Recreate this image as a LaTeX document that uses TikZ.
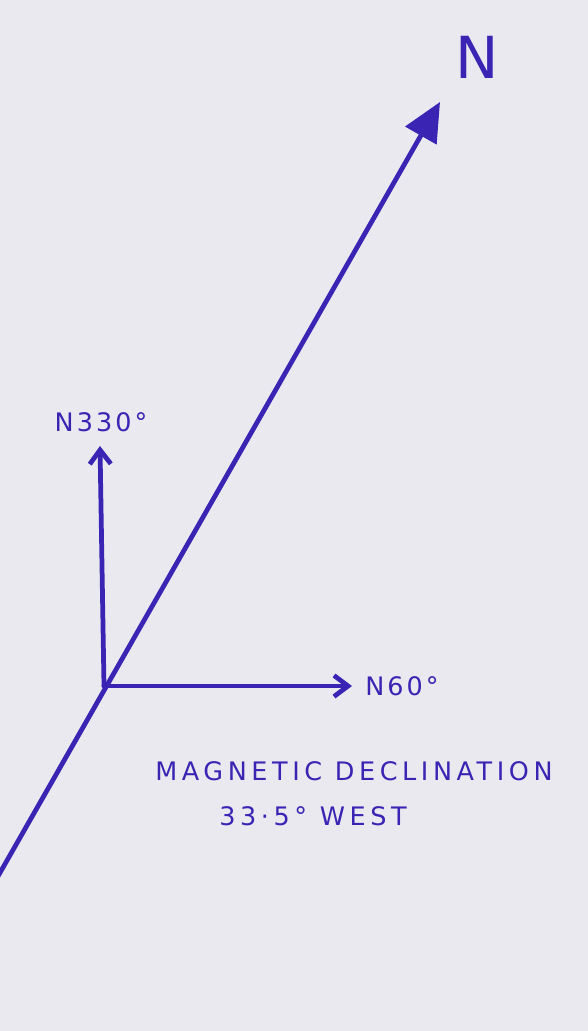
\documentclass[tikz,border=0pt]{standalone}
\usepackage{fontspec}
\setmainfont{DejaVu Sans}
\usetikzlibrary{arrows.meta}
\definecolor{ink}{RGB}{58,36,180}
\definecolor{paper}{RGB}{233,233,239}
\tikzset{
  pen/.style={draw=ink, line width=2.7pt, line cap=round},
  hand/.style={text=ink, inner sep=0pt, font=\addfontfeature{LetterSpace=12}\fontsize{14.5}{17}\selectfont},
  note/.style={hand, font=\addfontfeature{LetterSpace=18}\fontsize{14.5}{17}\selectfont},
}
\begin{document}
\begin{tikzpicture}[x=0.02cm,y=-0.02cm]
\useasboundingbox (0,0) rectangle (588,1031);
\fill[paper] (0,0) rectangle (588,1031);
\coordinate (o) at (104,686);
\coordinate (sw) at (-3,878);
\coordinate (tip) at (440,102);
\coordinate (up) at (100,446);
\coordinate (east) at (352,686);
\node[hand, font=\fontsize{33}{36}\selectfont] (north) at (477,57) {N};
\node[hand] (n330) at (101,422) {N330°};
\node[hand] (n60) at (402,686) {N60°};
\node[note] (decl) at (354,771) {MAGNETIC DECLINATION};
\node[note] (west) at (313,816) {33·5° WEST};
\draw[pen, -{Triangle[length=22pt,width=20pt]}] (sw) -- (tip);
\draw[pen, -{Straight Barb[length=8pt,width=12pt]}] (o) -- (up);
\draw[pen, -{Straight Barb[length=8pt,width=12pt]}] (o) -- (east);
\end{tikzpicture}
\end{document}
